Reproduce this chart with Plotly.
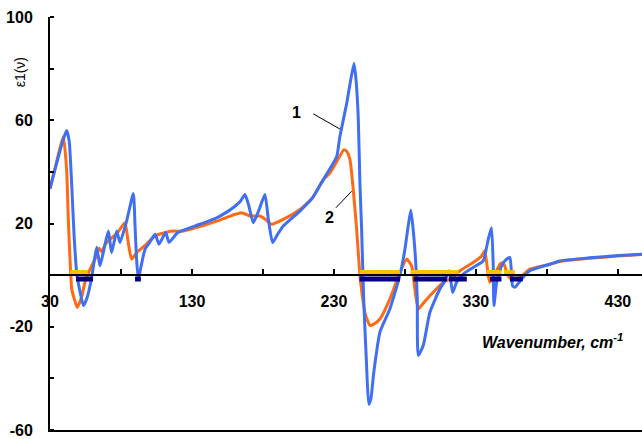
import plotly.graph_objects as go

# Curve 1 (blue)
blue_x = [30, 33, 36, 39, 41.7, 43.5, 45.3, 47, 48.8, 51, 53.5, 56, 59.3, 61, 62.9, 65.2, 68, 71.1, 73.4, 77, 79.3,
          84, 88.7, 89.9, 91, 92.2, 94, 96.9, 100, 104, 106.8, 111.5, 113.8, 120, 135.6, 147.4, 155, 160.3, 164,
          167.3, 170, 173.2, 177, 181.4, 183.8, 186.8, 190, 194.3, 206, 215, 222.5, 228, 232, 234.2, 239, 241,
          244.1, 245.5, 247.1, 248.3, 249.5, 251, 253, 254.5, 256, 258, 262.4, 269.4, 276.5, 280, 282.3, 284.2,
          287, 288.7, 289.4, 292.9, 297.6, 304.6, 308.2, 311.2, 313.6, 316.4, 321.1, 328.1, 335.1, 338.7, 341,
          342.2, 342.7, 344.6, 348.1, 351.6, 354, 355.8, 357.5, 362.2, 368, 382, 389, 410, 430, 447]
blue_y = [33.5, 40, 46, 52, 56, 52, 35, 15, 1, -6, -11.8, -9, -1, 5, 10.8, 3.6, 10, 17.1, 8.7, 17.1, 12.6,
          21, 31.6, 19, 6, -1.5, 3, 10, 12.5, 15.8, 12, 16.5, 12.7, 16.5, 19.7, 22.2, 24.6, 26.7, 28.5,
          31.2, 27, 20.3, 25, 31.2, 21.6, 12.6, 15.5, 19, 24.8, 30, 37, 42, 46, 53.7, 66.6, 73,
          82, 76, 61.4, 35.7, 17.7, -10, -35, -50, -48, -38, -22.1, -13.1, 0, 10, 19, 25.2,
          10, -9.3, -31.1, -27.3, -14.4, -5.4, -2.2, 1.7, -6.7, -2.8, 0.4, 3, 5.5, 13.9, 18.4,
          3.6, -11.8, -2.8, 3.6, 6.2, 6.8, -4.1, -4.7, -1.5, 1.7, 4.2, 5.5, 6.7, 7.6, 8.1]

# Curve 2 (orange)
orange_x = [30, 33, 36, 39.4, 41.7, 43, 44.1, 45.3, 47, 49.2, 52, 54.6, 58, 61.7, 64.7, 66.4, 69, 72.3, 77, 82.8,
            85, 87.5, 91, 97, 104, 115, 123.9, 147.4, 160, 165, 170.8, 177.9, 182, 186, 194.3, 206, 215, 222.5,
            227.2, 232, 237, 239, 241.3, 243.6, 246, 248.3, 250, 252, 255.4, 258, 262.4, 269.4, 276.5, 281.2,
            284.7, 287, 289.4, 292, 297.6, 307, 314.1, 318.7, 328.1, 334, 336.3, 338.7, 339.9, 343.4, 346.9,
            349.2, 352.7, 355.1, 361, 368, 382, 389, 410, 430, 447]
orange_y = [33.5, 40, 47, 53.7, 40.9, 20, 6.2, -5.4, -9, -12.5, -9, -2.8, 2, 6.2, 10.4, 9, 12, 13.9, 16, 20.3,
            13, 6.2, 8.7, 11.5, 15.2, 17, 17.1, 20.9, 23.5, 24.2, 22.9, 22.9, 21.5, 19.7, 21.6, 25.4, 30, 37,
            39.6, 44, 48.6, 48, 44.7, 33.2, 17.7, 0, -8, -15, -19.5, -19, -17, -9.3, 1, 6.2,
            3.6, -5.4, -13.1, -11.5, -8, -2.8, -0.9, 1.7, 4.9, 7.4, 9.4, -0.3, -2.8, 0.4, 4.2,
            4.9, -0.3, -1.5, -0.9, 2.3, 4.2, 5.3, 6.5, 7.4, 8.0]

# Negative-region bars
yellow_start = [44.1, 248, 284, 337.5, 349.7]
yellow_end = [56.8, 276.5, 318, 348, 357.5]
yellow_level = 1.2
navy_start = [48.3, 89.9, 248, 286, 311, 340, 354]
navy_end = [60.3, 94, 276.5, 309.5, 323.6, 348, 363]
navy_level = -1.5

# Axis ticks
x_tick_vals = [30, 130, 230, 330, 430]
x_tick_text = ["30", "130", "230", "330", "430"]
y_tick_vals = [100, 60, 20, -20, -60]
y_tick_text = ["100", "60", "20", "-20", "-60"]

x_range = [30, 447]
y_range = [-60, 100]


def segments(starts, ends, level):
    xs, ys = [], []
    for s, e in zip(starts, ends):
        xs += [s, e, None]
        ys += [level, level, None]
    return xs, ys


fig = go.Figure()
fig.add_trace(go.Scatter(x=orange_x, y=orange_y, mode="lines",
                         line=dict(color="#ff6a13", width=3, shape="spline", smoothing=0.5),
                         showlegend=False))
fig.add_trace(go.Scatter(x=blue_x, y=blue_y, mode="lines",
                         line=dict(color="#3f6ff2", width=3, shape="spline", smoothing=0.5),
                         showlegend=False))
yx, yy = segments(yellow_start, yellow_end, yellow_level)
fig.add_trace(go.Scatter(x=yx, y=yy, mode="lines",
                         line=dict(color="#ffc000", width=4), showlegend=False))
nx, ny = segments(navy_start, navy_end, navy_level)
fig.add_trace(go.Scatter(x=nx, y=ny, mode="lines", xaxis="x2",
                         line=dict(color="#000080", width=5), showlegend=False))

tick_font = dict(family="Liberation Sans, Arial, sans-serif", size=16, color="black", weight="bold")

fig.update_layout(
    width=642, height=439,
    margin=dict(l=50, r=0, t=17, b=7),
    plot_bgcolor="white", paper_bgcolor="white",
    xaxis=dict(range=x_range, anchor="free", position=0.375, showline=True, linecolor="black",
               linewidth=2, showgrid=False, zeroline=False,
               tickmode="array", tickvals=x_tick_vals, ticktext=x_tick_text,
               ticks="inside", ticklen=5, tickwidth=1.5,
               tickcolor="black", tickfont=tick_font, ticklabelstandoff=12,
               minor=dict(tickmode="linear", tick0=30, dtick=50, ticks="inside", ticklen=5,
                          tickwidth=1.5, tickcolor="black")),
    xaxis2=dict(range=x_range, matches="x", overlaying="x", anchor="y", side="bottom",
                showline=True, linecolor="black", linewidth=2, showgrid=False, zeroline=False,
                showticklabels=False, ticks=""),
    yaxis=dict(range=y_range, showline=True, linecolor="black", linewidth=2, showgrid=False,
               zeroline=False, tickmode="array", tickvals=y_tick_vals, ticktext=y_tick_text,
               ticks="", tickfont=tick_font, ticklabelstandoff=12, ticklabeloverflow="allow",
               minor=dict(tickmode="linear", tick0=0, dtick=20, ticks="inside", ticklen=4,
                          tickwidth=1.5, tickcolor="black")),
    shapes=[
        dict(type="line", xref="x", yref="y", x0=215.4, y0=62.5, x1=234.2, y1=56.6,
             line=dict(color="black", width=1)),
        dict(type="line", xref="x", yref="y", x0=231.4, y0=26.1, x1=242.5, y1=32.5,
             line=dict(color="black", width=1)),
    ],
    annotations=[
        dict(x=203.7, y=63, xref="x", yref="y", text="1", showarrow=False,
             font=dict(family="Liberation Sans, Arial", size=16, color="black", weight="bold")),
        dict(x=226.7, y=22.2, xref="x", yref="y", text="2", showarrow=False,
             font=dict(family="Liberation Sans, Arial", size=16, color="black", weight="bold")),
        dict(x=384.2, y=-25.4, xref="x", yref="y",
             text="<b><i>Wavenumber, cm<sup>-1</sup></i></b>", showarrow=False,
             font=dict(family="Liberation Sans, Arial", size=16, color="black")),
        dict(x=-0.05, y=0.867, xref="paper", yref="paper", text="ε1(ν)", textangle=-90,
             xanchor="center", yanchor="middle",
             showarrow=False, font=dict(family="Liberation Sans, Arial", size=14, color="black")),
    ],
)

fig.write_html("out.html", config={"displayModeBar": False},
               post_script="document.body.style.margin='0px';")
